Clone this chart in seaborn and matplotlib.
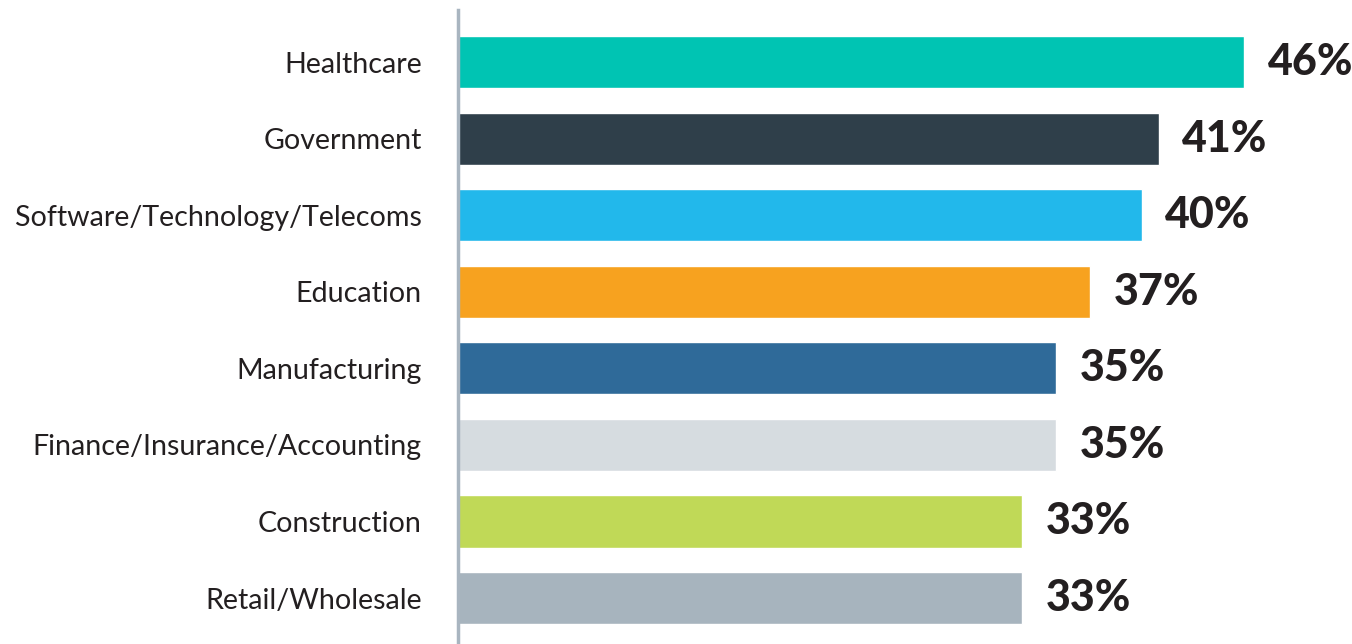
import matplotlib
matplotlib.use("Agg")
import matplotlib.pyplot as plt
import seaborn as sns
import pandas as pd

categories = [
    "Healthcare",
    "Government",
    "Software/Technology/Telecoms",
    "Education",
    "Manufacturing",
    "Finance/Insurance/Accounting",
    "Construction",
    "Retail/Wholesale",
]
values = [46, 41, 40, 37, 35, 35, 33, 33]
colors = ["#00c4b3", "#2f3f4a", "#22b8eb", "#f7a21f",
          "#2f6a99", "#d6dce0", "#c0d957", "#a7b4be"]

sns.set_theme(style="white")
plt.rcParams["font.family"] = ["Lato", "DejaVu Sans"]

df = pd.DataFrame({"category": categories, "value": values})

fig = plt.figure(figsize=(13.52, 6.44), dpi=100)
ax = fig.add_axes([458 / 1352, 0, 1 - 458 / 1352, 1 - 10 / 644])

sns.barplot(data=df, x="value", y="category", hue="category",
            palette=dict(zip(categories, colors)), width=0.68,
            legend=False, ax=ax, saturation=1)

# value labels to the right of each bar
for cont, v in zip(ax.containers, values):
    ax.bar_label(cont, labels=[f"{v}%"], padding=17, fontsize=31,
                 fontweight="black", color="#231f20")

ax.set_xlim(0, 52.3)
ax.set_ylim(7.60, -0.68)
ax.set_xlabel("")
ax.set_ylabel("")
ax.set_xticks([])
ax.tick_params(axis="y", length=0, pad=26, labelsize=20.6, labelcolor="#231f20")
for s in ["top", "right", "bottom"]:
    ax.spines[s].set_visible(False)
ax.spines["left"].set_color("#a9b5c0")
ax.spines["left"].set_linewidth(2.5)

fig.savefig("out.png", dpi=100)
